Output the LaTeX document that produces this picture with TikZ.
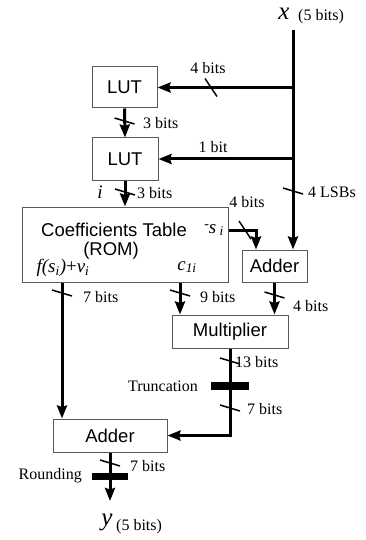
\documentclass[tikz,border=0pt]{standalone}
\usepackage{amsmath}
\usepackage{fontspec}
\setmainfont{Liberation Serif}
\setsansfont{Liberation Sans}
\usepackage{tikz}
\usetikzlibrary{arrows.meta}
\definecolor{boxline}{gray}{0.35}

\begin{document}
\begin{tikzpicture}[x=1pt, y=-1pt,
  box/.style={draw=boxline, line width=1, fill=white, inner sep=0,
    font=\sffamily\fontsize{18.5}{20}\selectfont},
  bus/.style={line width=3},
  bin/.style={bus, -{Stealth[length=13pt, width=10pt, inset=1.5pt]}},
  tick/.style={line width=1.5},
  lbl/.style={inner sep=0, font=\rmfamily\fontsize{16}{18}\selectfont},
  rlbl/.style={lbl, anchor=west},
  sym/.style={inner sep=0, font=\rmfamily\fontsize{19}{20}\selectfont\itshape}]

  \useasboundingbox (0, 0) rectangle (365, 540);

  % blocks
  \node[box, minimum width=65, minimum height=41] (lut1) at (124.5, 87.5) {LUT};
  \node[box, minimum width=66, minimum height=42] (lut2) at (125, 159) {LUT};
  \node[box, minimum width=206, minimum height=75] (rom) at (125, 244.5) {};
  \node[box, minimum width=65, minimum height=32] (add1) at (274.5, 266) {Adder};
  \node[box, minimum width=116, minimum height=33] (mult) at (230, 331.5) {Multiplier};
  \node[box, minimum width=114, minimum height=33] (add2) at (110, 435.5) {Adder};

  \node[inner sep=0, font=\sffamily\fontsize{18.5}{20}\selectfont] (romtitle) at (114, 230) {Coefficients Table};
  \node[inner sep=0, font=\sffamily\fontsize{18.5}{20}\selectfont] (romname) at (111, 251) {(ROM)};
  \node[sym] (fsv) at (63, 268) {f(s$_{\textit{i}}$){\upshape +}v$_{\textit{i}}$};
  \node[sym] (cli) at (187, 267) {c$_{\textit{1i}}$};
  \node[sym] (msi) at (214, 230) {\raisebox{5pt}{\upshape\fontsize{14}{14}\selectfont -}s\,$_{\textit{i}}$};

  % input and output
  \node[sym, font=\rmfamily\fontsize{25}{26}\selectfont\itshape] (xname) at (284, 14) {x};
  \node[rlbl] (xbits) at (298, 17) {(5 bits)};
  \coordinate (xin) at (293, 30);
  \coordinate (yout) at (110, 501);
  \node[sym, font=\rmfamily\fontsize{25}{26}\selectfont\itshape] (yname) at (107, 522) {y};
  \node[rlbl] (ybits) at (116, 527) {(5 bits)};

  % buses
  \draw[bin] (xin) -- (xin |- add1.north);
  \draw[bin] (xin |- lut1.east) -- (lut1.east);
  \draw[bin] (xin |- lut2.east) -- (lut2.east);
  \draw[bin] (lut1.south) -- (lut2.north);
  \draw[bin] (lut2.south) -- (rom.north -| lut2.south);
  \coordinate (sturn) at (256, 230);
  \draw[bin] (rom.east |- sturn) -- (sturn) -- (sturn |- add1.north);
  \draw[bin] (rom.south -| 62,0) -- (add2.north -| 62,0);
  \draw[bin] (rom.south -| 180,0) -- (mult.north -| 180,0);
  \draw[bin] (add1.south) -- (mult.north -| add1.south);
  \draw[bin] (mult.south) -- (mult.south |- add2.east) -- (add2.east);
  \draw[bin] (add2.south) -- (yout);

  % bus width marks
  \draw[tick] (211, 87.5) ++(-6, -9) -- ++(12, 18);
  \draw[tick] (245, 230) ++(-6, -9) -- ++(12, 18);
  \foreach \bx/\by in {124.5/121, 125/192, 293/191, 62/293, 180/293, 274.5/295, 230/361, 230/408, 110/463}
    \draw[tick] (\bx, \by) ++(-10, -3) -- ++(20, 6);

  % truncation and rounding
  \fill (211, 382) rectangle (249, 390);
  \fill (92, 473) rectangle (128, 480);

  % labels
  \node[lbl] (l4a) at (208, 68) {4 bits};
  \node[rlbl] (l3a) at (143, 123) {3 bits};
  \node[lbl] (l1) at (213, 147) {1 bit};
  \node[sym] (iname) at (100, 192) {i};
  \node[rlbl] (l3b) at (137, 193) {3 bits};
  \node[lbl] (l4b) at (247, 202) {4 bits};
  \node[rlbl] (llsb) at (308, 192) {4 LSBs};
  \node[rlbl] (l7a) at (83, 297) {7 bits};
  \node[rlbl] (l9) at (200, 297) {9 bits};
  \node[rlbl] (l4c) at (293, 306) {4 bits};
  \node[rlbl] (l13) at (235, 362) {13 bits};
  \node[lbl, anchor=east] (ltrunc) at (198, 386) {Truncation};
  \node[rlbl] (l7b) at (247, 409) {7 bits};
  \node[rlbl] (l7c) at (130, 466) {7 bits};
  \node[lbl, anchor=east] (lround) at (82, 476) {Rounding};

\end{tikzpicture}
\end{document}
